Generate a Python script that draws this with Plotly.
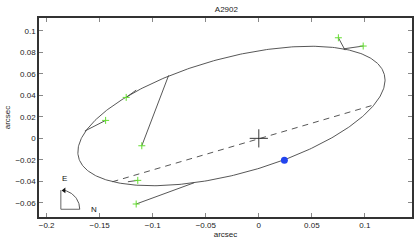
import numpy as np
import plotly.graph_objects as go

# Orbit ellipse (apparent) parameters
orbit_cx = -0.0258
orbit_cy = 0.0208
orbit_a = 0.1492
orbit_b = 0.0540
orbit_theta_deg = 15.0

# Observed positions (green +) and predicted positions on the orbit
obs_x = [0.075, 0.0984, -0.125, -0.1444, -0.1103, -0.1141, -0.1156]
obs_y = [0.0936, 0.0859, 0.0381, 0.0167, -0.0069, -0.0391, -0.0611]
pred_x = [0.0813, 0.0800, -0.1156, -0.1640, -0.085, -0.1234, -0.0609]
pred_y = [0.0821, 0.0833, 0.0449, 0.0068, 0.0586, -0.0404, -0.0413]

# Line of nodes
nodes_x = [-0.138, 0.1103]
nodes_y = [-0.0404, 0.0316]

# Current position (blue dot)
cur_x = [0.0241]
cur_y = [-0.0205]

# Compass (E/N) anchor
comp_x = -0.1866
comp_y = -0.066
comp_r = 0.0178

x_ticks = [-0.2, -0.15, -0.1, -0.05, 0, 0.05, 0.1]
x_labels = ["\u22120.2", "\u22120.15", "\u22120.1", "\u22120.05", "0", "0.05", "0.1"]
y_ticks = [-0.06, -0.04, -0.02, 0, 0.02, 0.04, 0.06, 0.08, 0.1]
y_labels = ["\u22120.06", "\u22120.04", "\u22120.02", "0", "0.02", "0.04", "0.06", "0.08", "0.1"]

t = np.linspace(0, 2 * np.pi, 400)
th = np.radians(orbit_theta_deg)
ex = orbit_cx + orbit_a * np.cos(t) * np.cos(th) - orbit_b * np.sin(t) * np.sin(th)
ey = orbit_cy + orbit_a * np.cos(t) * np.sin(th) + orbit_b * np.sin(t) * np.cos(th)

LINE = "#444444"

fig = go.Figure()
fig.add_trace(go.Scatter(x=ex, y=ey, mode="lines",
                         line=dict(color=LINE, width=0.9), hoverinfo="skip"))
fig.add_trace(go.Scatter(x=nodes_x, y=nodes_y, mode="lines",
                         line=dict(color=LINE, width=0.9, dash="6px,5px")))
for ox, oy, px_, py_ in zip(obs_x, obs_y, pred_x, pred_y):
    fig.add_trace(go.Scatter(x=[ox, px_], y=[oy, py_], mode="lines",
                             line=dict(color=LINE, width=0.9)))
fig.add_trace(go.Scatter(x=obs_x, y=obs_y, mode="markers",
                         marker=dict(symbol="cross-thin", size=5,
                                     line=dict(color="#66dd33", width=1))))
fig.add_trace(go.Scatter(x=[0], y=[0], mode="markers",
                         marker=dict(symbol="cross-thin", size=13,
                                     line=dict(color="#222222", width=0.9))))
fig.add_trace(go.Scatter(x=cur_x, y=cur_y, mode="markers",
                         marker=dict(symbol="circle", size=7, color="#2244ee")))

# Compass
ca = np.linspace(0, np.radians(80), 40)
fig.add_trace(go.Scatter(x=[comp_x, comp_x, comp_x + comp_r],
                         y=[comp_y + comp_r, comp_y, comp_y], mode="lines",
                         line=dict(color="#555555", width=0.9)))
fig.add_trace(go.Scatter(x=comp_x + comp_r * np.cos(ca), y=comp_y + comp_r * np.sin(ca),
                         mode="lines", line=dict(color=LINE, width=0.9)))
fig.add_trace(go.Scatter(x=[comp_x + comp_r * np.cos(np.radians(80))],
                         y=[comp_y + comp_r * np.sin(np.radians(80))], mode="markers",
                         marker=dict(symbol="triangle-left", size=5, color="#111111")))

fig.add_annotation(x=comp_x + 0.0035, y=comp_y + 0.0285, text="E", showarrow=False,
                   font=dict(size=8, color="#111111"))
fig.add_annotation(x=comp_x + 0.0313, y=comp_y - 0.0004, text="N", showarrow=False,
                   font=dict(size=8, color="#111111"))

axis_common = dict(showgrid=False, zeroline=False, ticks="inside", ticklen=4,
                   tickcolor="#888888", showline=True, linecolor="#333333",
                   linewidth=1.5, mirror="allticks",
                   tickfont=dict(family="Liberation Sans, Arial", size=8, color="#222222"))

fig.update_layout(
    width=415, height=242,
    margin=dict(l=39, r=1, t=18, b=25),
    paper_bgcolor="white", plot_bgcolor="white",
    showlegend=False,
    font=dict(family="Liberation Sans, Arial", size=8, color="#222222"),
    title=dict(text="A2902", x=0.5455, xanchor="center", y=1 - 9.5 / 242,
               yanchor="middle", yref="container",
               font=dict(size=8, color="#222222")),
    xaxis=dict(range=[-0.2072, 0.1444], tickvals=x_ticks, ticktext=x_labels,
               title=dict(text="arcsec", standoff=2, font=dict(size=8)), **axis_common),
    yaxis=dict(range=[-0.0732, 0.112], tickvals=y_ticks, ticktext=y_labels,
               title=dict(text="arcsec", standoff=4, font=dict(size=8)), **axis_common),
)

fig.write_html("out.html", config={"displayModeBar": False},
               post_script="document.body.style.margin='0';document.body.style.overflow='hidden';")
